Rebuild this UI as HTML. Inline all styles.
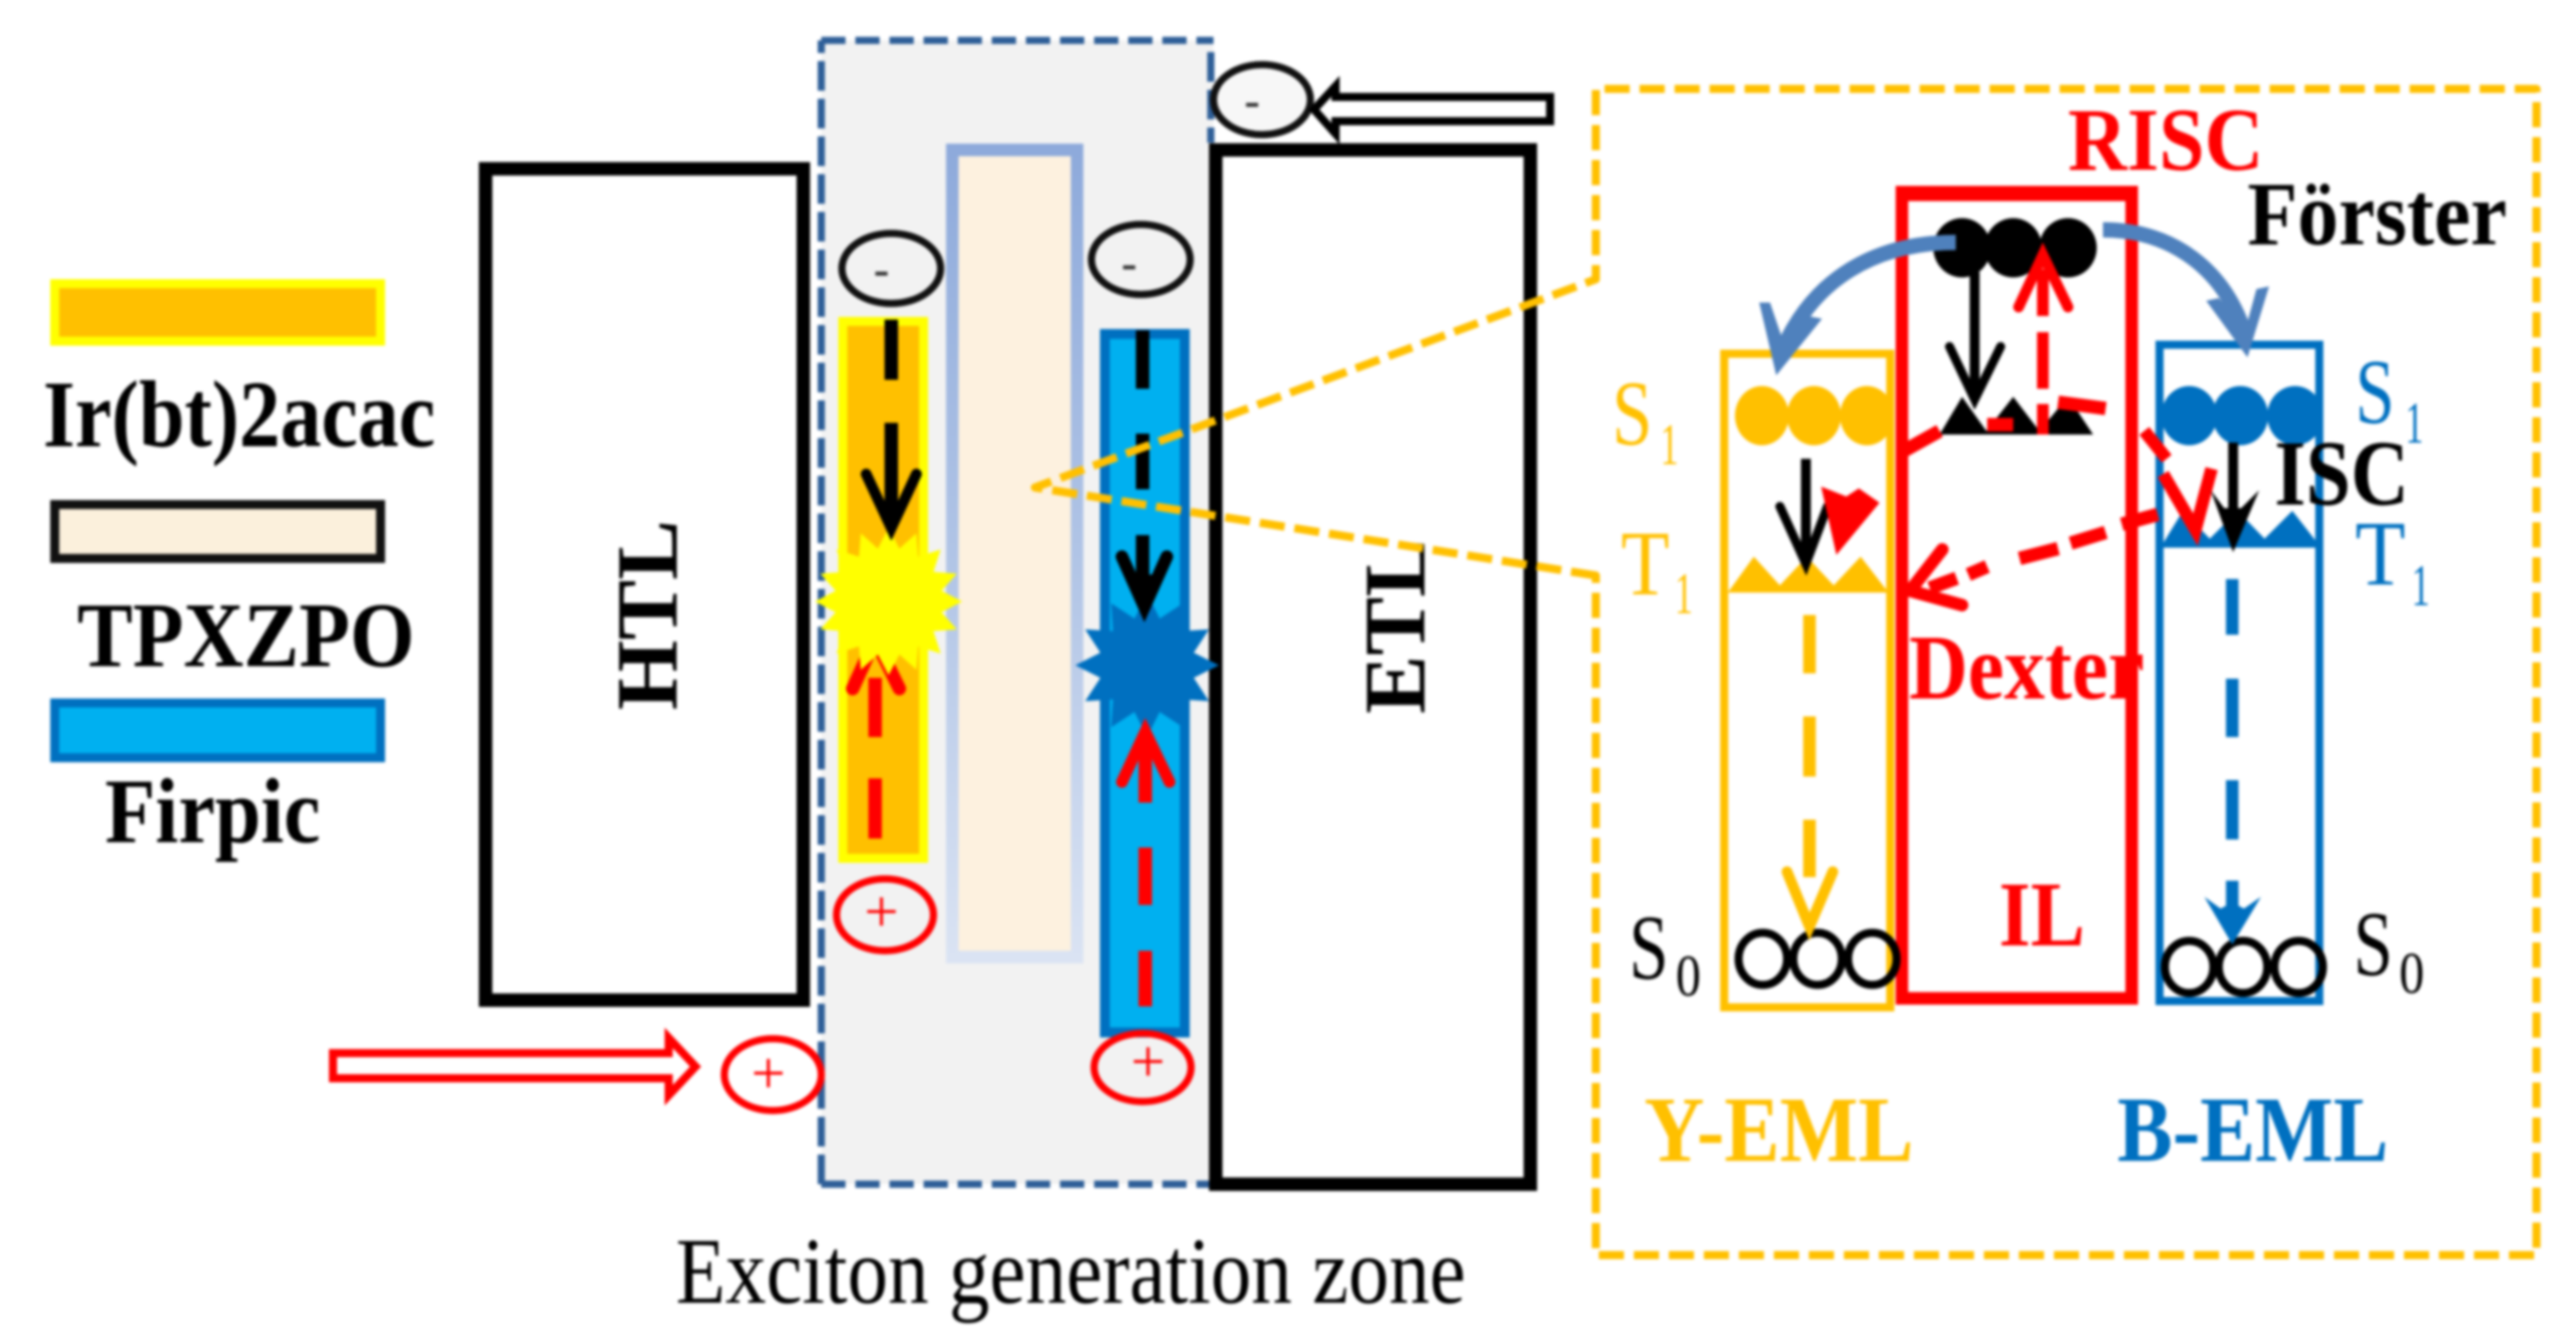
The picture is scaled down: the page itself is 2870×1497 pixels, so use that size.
<!DOCTYPE html>
<html lang="en">
<head>
<meta charset="utf-8">
<title>Exciton generation zone diagram</title>
<style>
html,body{margin:0;padding:0;background:#fff;width:2870px;height:1497px;overflow:hidden}
svg{display:block;filter:blur(1.5px)}
text{font-family:"Liberation Serif",serif}
.b{font-weight:bold}
</style>
</head>
<body>
<svg xmlns="http://www.w3.org/2000/svg" width="2870" height="1497" viewBox="0 0 2870 1497">
<defs>
<linearGradient id="col" x1="0" y1="0" x2="0" y2="1">
<stop offset="0" stop-color="#8EAADB"/>
<stop offset="0.55" stop-color="#B4C7E7"/>
<stop offset="1" stop-color="#DAE3F3"/>
</linearGradient>
</defs>
<rect width="2870" height="1497" fill="#fff"/>

<!-- Exciton zone -->
<rect x="915" y="45" width="437" height="1274" fill="#F2F2F2"/>
<g stroke="#2F5F98" fill="none">
<path d="M915 1319V45" stroke-width="8" stroke-dasharray="33 9"/>
<path d="M915 45H1352" stroke-width="8" stroke-dasharray="27 11"/>
<path d="M915 1319H1352" stroke-width="8" stroke-dasharray="27 11"/>
<path d="M1349 58V159" stroke-width="8" stroke-dasharray="33 9"/>
</g>

<!-- Legend -->
<rect x="61" y="316" width="363" height="64" fill="#FFC000" stroke="#FFFF00" stroke-width="10"/>
<text class="b" x="48" y="497" font-size="106" textLength="437" lengthAdjust="spacingAndGlyphs">Ir(bt)2acac</text>
<rect x="61" y="562" width="363" height="60" fill="#FBF0DC" stroke="#111" stroke-width="10"/>
<text class="b" x="86" y="742" font-size="103" textLength="376" lengthAdjust="spacingAndGlyphs">TPXZPO</text>
<rect x="61" y="783" width="363" height="61" fill="#00B0F0" stroke="#0070C0" stroke-width="10"/>
<text class="b" x="117" y="938" font-size="103" textLength="240" lengthAdjust="spacingAndGlyphs">Firpic</text>

<!-- HTL / ETL -->
<rect x="541" y="188" width="354" height="926" fill="#fff" stroke="#000" stroke-width="15"/>
<text class="b" transform="translate(754,791) rotate(-90)" font-size="97" textLength="212" lengthAdjust="spacingAndGlyphs">HTL</text>
<rect x="1354.5" y="167" width="350.5" height="1152" fill="#fff" stroke="#000" stroke-width="15"/>
<text class="b" transform="translate(1587,795) rotate(-90)" font-size="97" textLength="195" lengthAdjust="spacingAndGlyphs">ETL</text>

<!-- Middle column -->
<rect x="1061" y="167" width="139" height="899" fill="#FDF1DF" stroke="url(#col)" stroke-width="14"/>

<!-- Yellow bar -->
<rect x="939" y="358" width="90" height="598" fill="#FFC000" stroke="#FFFF00" stroke-width="10"/>
<!-- Blue bar -->
<rect x="1231" y="372" width="89" height="778" fill="#00B0F0" stroke="#0070C0" stroke-width="11"/>

<!-- Red arrow in yellow bar (under star) -->
<g stroke="#FF0000" fill="none" stroke-width="15">
<path d="M975 867V934M975 755V821"/>
<path d="M950 767L975 712L1002 767" stroke-linecap="round"/>
</g>

<!-- Stars -->
<polygon transform="translate(990,670)" fill="#FFFF00" points="82,0 59,12 76,31 50,33 58,58 33,50 31,76 12,59 0,82 -12,59 -31,76 -33,50 -58,58 -50,33 -76,31 -59,12 -82,0 -59,-12 -76,-31 -50,-33 -58,-58 -33,-50 -31,-76 -12,-59 0,-82 12,-59 31,-76 33,-50 58,-58 50,-33 76,-31 59,-12"/>
<polygon transform="translate(1278,741)" fill="#0070C0" points="80,0 52,14 69,40 38,38 40,69 14,52 0,80 -14,52 -40,69 -38,38 -69,40 -52,14 -80,0 -52,-14 -69,-40 -38,-38 -40,-69 -14,-52 0,-80 14,-52 40,-69 38,-38 69,-40 52,-14"/>

<!-- Black arrows on bars -->
<g stroke="#000" fill="none" stroke-width="15">
<path d="M993 356V423M993 471V575"/>
<path d="M965 528L993 588L1021 528" stroke-width="12" stroke-linecap="round"/>
<path d="M1273 368V433M1273 483V545M1273 596V670"/>
<path d="M1250 620L1275 676L1300 620" stroke-width="14" stroke-linecap="round"/>
</g>
<polygon points="1256,640 1275,684 1294,640" fill="#000"/>

<!-- Red arrow in blue bar -->
<g stroke="#FF0000" fill="none" stroke-width="15">
<path d="M1276 830V894M1276 944V1008M1276 1059V1121"/>
<path d="M1250 871L1276 815L1303 871" stroke-width="13" stroke-linecap="round"/>
</g>
<polygon points="1260,840 1276,807 1292,840" fill="#FF0000"/>

<!-- Charges -->
<g fill="none" stroke-width="8">
<ellipse cx="993" cy="299" rx="55" ry="39" stroke="#111"/>
<ellipse cx="1271" cy="289" rx="55" ry="39" stroke="#111"/>
<ellipse cx="1406" cy="111" rx="54" ry="39" stroke="#111" fill="#F7F7F7"/>
<ellipse cx="986" cy="1019" rx="54" ry="40" stroke="#FF0000"/>
<ellipse cx="1273" cy="1189" rx="54" ry="38" stroke="#FF0000"/>
<ellipse cx="861" cy="1197" rx="54" ry="40" stroke="#FF0000"/>
</g>
<g class="b" font-size="52" text-anchor="middle" fill="#333">
<text x="982" y="317" class="b">-</text>
<text x="1258" y="310" class="b">-</text>
<text x="1395" y="129" class="b">-</text>
</g>
<g font-size="68" text-anchor="middle" fill="#FF0000">
<text x="982" y="1038">+</text>
<text x="1279" y="1205">+</text>
<text x="856" y="1218">+</text>
</g>

<!-- Injection arrows -->
<path d="M1727 108H1488V96L1464 122L1488 149V135H1727Z" fill="#fff" stroke="#000" stroke-width="9"/>
<path d="M371 1173H745V1156L775 1188L745 1220V1201H371Z" fill="#fff" stroke="#FF0000" stroke-width="9"/>

<!-- Right panel boxes -->
<rect x="1921" y="394" width="185" height="728" fill="#fff" stroke="#FFC000" stroke-width="9"/>
<rect x="2406" y="384" width="178" height="731" fill="#fff" stroke="#0070C0" stroke-width="9"/>
<rect x="2119" y="215" width="256" height="897" fill="#fff" stroke="#FF0000" stroke-width="14"/>
<path d="M2112 207H2382V224H2112Z" fill="#FF0000"/>

<!-- Level shapes -->
<g fill="#000">
<ellipse cx="2186" cy="276" rx="32" ry="33"/>
<ellipse cx="2243" cy="276" rx="32" ry="33"/>
<ellipse cx="2304" cy="276" rx="32" ry="33"/>
<polygon points="2161,484 2186,442 2213,480 2243,442 2272,480 2304,442 2332,484"/>
</g>
<g fill="#FFC000">
<ellipse cx="1963" cy="463" rx="30" ry="33"/>
<ellipse cx="2021" cy="463" rx="30" ry="33"/>
<ellipse cx="2080" cy="463" rx="30" ry="33"/>
<polygon points="1925,660 1954,620 1983,652 2013,620 2043,652 2073,620 2104,660"/>
</g>
<g fill="#0070C0">
<ellipse cx="2439" cy="463" rx="31" ry="33"/>
<ellipse cx="2496" cy="463" rx="31" ry="33"/>
<ellipse cx="2557" cy="463" rx="31" ry="33"/>
<polygon points="2407,610 2432,569 2462,600 2493,569 2523,600 2554,569 2586,610"/>
</g>
<g fill="none" stroke="#000" stroke-width="9">
<ellipse cx="1964" cy="1068" rx="27" ry="29"/>
<ellipse cx="2025" cy="1068" rx="27" ry="29"/>
<ellipse cx="2086" cy="1068" rx="27" ry="29"/>
<ellipse cx="2439" cy="1077" rx="27" ry="29"/>
<ellipse cx="2499" cy="1077" rx="27" ry="29"/>
<ellipse cx="2561" cy="1077" rx="27" ry="29"/>
</g>

<!-- Blue curved Forster arrows -->
<g fill="none" stroke="#4F81BD">
<path d="M2179 270C2090 270 2020 310 1985 392" stroke-width="17"/>
<path d="M2343 256C2420 256 2480 300 2503 378" stroke-width="17"/>
</g>
<polygon fill="#4F81BD" points="1960,337 1979,418 2030,355 2014,352 1988,384 1972,337"/>
<polygon fill="#4F81BD" points="2458,335 2504,398 2528,319 2514,322 2502,366 2472,332"/>

<!-- Arrows within right panel -->
<g fill="none" stroke="#000">
<path d="M2200 303V445" stroke-width="11"/>
<path d="M2172 386L2200 445L2229 386" stroke-width="10" stroke-linecap="round"/>
<path d="M2012 511V625" stroke-width="11"/>
<path d="M1983 564L2012 628L2036 564" stroke-width="10" stroke-linecap="round"/>
</g>

<!-- Dashed vertical emissions -->
<g fill="none" stroke="#FFC000" stroke-width="14">
<path d="M2016 685V750M2016 798V865M2016 913V977"/>
<path d="M1991 971L2016 1032L2042 971" stroke-width="12" stroke-linecap="round"/>
</g>
<g fill="none" stroke="#0070C0" stroke-width="14">
<path d="M2487 645V707M2487 756V821M2487 869V935M2487 981V1035"/>
</g>
<polygon fill="#0070C0" points="2456,999 2487,1052 2519,999 2500,1012 2487,1005 2474,1012"/>

<!-- Red Dexter / RISC paths -->
<g fill="none" stroke="#FF0000">
<path d="M2276 484V450M2276 433V370M2276 352V300" stroke-width="13"/>
<path d="M2249 342L2276 284L2304 342" stroke-width="12" stroke-linecap="round"/>
<path d="M2346 455L2293 448" stroke-width="15"/>
<path d="M2243 473H2214" stroke-width="15"/>
<path d="M2161 480L2118 504" stroke-width="15"/>
<path d="M2389 480L2414 511" stroke-width="14"/>
<path d="M2410 528L2446 590L2464 522" stroke-width="14"/>
<path d="M2404 573L2364 584M2346 593L2307 605M2293 611L2250 622M2214 631L2193 640M2180 644L2150 655" stroke-width="15"/>
<path d="M2164 612L2128 658L2186 674" stroke-width="14" stroke-linecap="round"/>
</g>
<polygon fill="#FF0000" points="2029,542 2057,553 2071,544 2094,560 2046,618"/>

<!-- Black arrow in B -->
<path d="M2488 493V600" stroke="#000" stroke-width="11" fill="none"/>
<polygon points="2463,546 2488,615 2517,546 2497,566 2478,566" fill="#000"/>

<!-- Orange dashed callout -->
<path d="M1778 641L1153 543L1778 311V99H2826V1398H1778Z" fill="none" stroke="#FFC000" stroke-width="9" stroke-dasharray="28 11" stroke-linejoin="round"/>

<!-- Panel labels -->
<text class="b" x="2304" y="189" font-size="100" fill="#FF0000" textLength="218" lengthAdjust="spacingAndGlyphs">RISC</text>
<text class="b" x="2504" y="272" font-size="101" fill="#000" textLength="289" lengthAdjust="spacingAndGlyphs">Förster</text>
<text class="b" x="2534" y="562" font-size="104" fill="#000" textLength="150" lengthAdjust="spacingAndGlyphs">ISC</text>
<text class="b" x="2127" y="778" font-size="103" fill="#FF0000" textLength="262" lengthAdjust="spacingAndGlyphs">Dexter</text>
<text class="b" x="2227" y="1053" font-size="103" fill="#FF0000" textLength="96" lengthAdjust="spacingAndGlyphs">IL</text>
<text class="b" x="1832" y="1293" font-size="104" fill="#FFC000" textLength="300" lengthAdjust="spacingAndGlyphs">Y-EML</text>
<text class="b" x="2359" y="1293" font-size="104" fill="#0070C0" textLength="302" lengthAdjust="spacingAndGlyphs">B-EML</text>

<g fill="#FFC000">
<text x="1796" y="495" font-size="103" textLength="45" lengthAdjust="spacingAndGlyphs">S</text>
<text x="1850" y="517" font-size="66" textLength="20" lengthAdjust="spacingAndGlyphs">1</text>
<text x="1806" y="662" font-size="103" textLength="54" lengthAdjust="spacingAndGlyphs">T</text>
<text x="1866" y="683" font-size="66" textLength="20" lengthAdjust="spacingAndGlyphs">1</text>
</g>
<g fill="#0070C0">
<text x="2624" y="471" font-size="103" textLength="44" lengthAdjust="spacingAndGlyphs">S</text>
<text x="2680" y="493" font-size="66" textLength="20" lengthAdjust="spacingAndGlyphs">1</text>
<text x="2624" y="651" font-size="103" textLength="56" lengthAdjust="spacingAndGlyphs">T</text>
<text x="2687" y="674" font-size="66" textLength="20" lengthAdjust="spacingAndGlyphs">1</text>
</g>
<g fill="#000">
<text x="1815" y="1090" font-size="103" textLength="44" lengthAdjust="spacingAndGlyphs">S</text>
<text x="1867" y="1109" font-size="66" textLength="28" lengthAdjust="spacingAndGlyphs">0</text>
<text x="2622" y="1086" font-size="103" textLength="44" lengthAdjust="spacingAndGlyphs">S</text>
<text x="2673" y="1106" font-size="66" textLength="28" lengthAdjust="spacingAndGlyphs">0</text>
</g>

<text x="753" y="1451" font-size="105" fill="#000" textLength="880" lengthAdjust="spacingAndGlyphs">Exciton generation zone</text>
</svg>
</body>
</html>
